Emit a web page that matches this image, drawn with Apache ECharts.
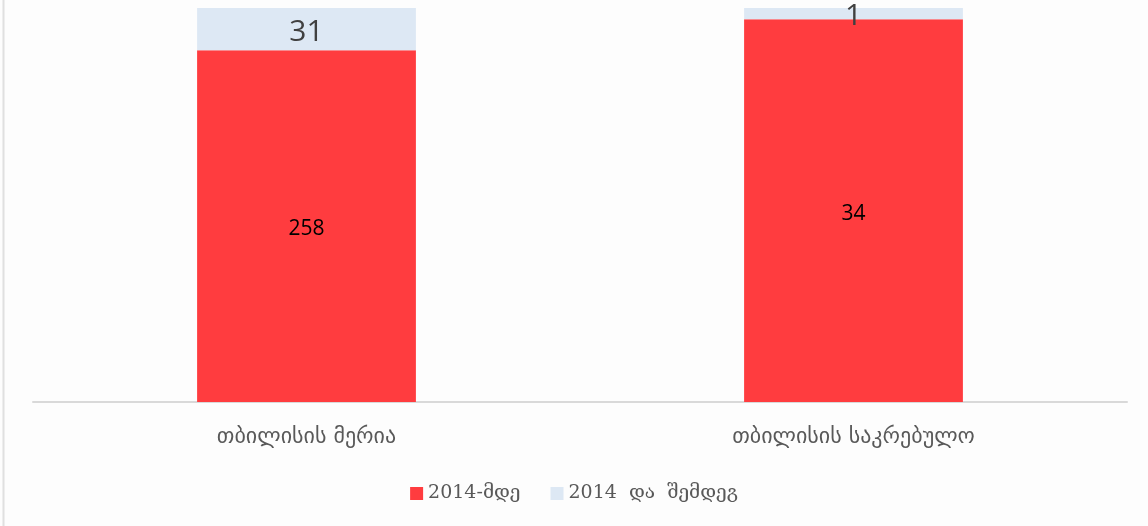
<!DOCTYPE html>
<html><head><meta charset="utf-8">
<script src="https://cdn.jsdelivr.net/npm/echarts@6/dist/echarts.min.js"></script>
<style>html,body{margin:0;padding:0;background:#fff}#c{width:1148px;height:526px}</style>
</head><body><div id="c"></div>
<script>
const categories = ['თბილისის მერია', 'თბილისის საკრებულო'];
const before2014 = [258, 34];
const after2014 = [31, 1];
const seriesNames = ['2014-მდე', '2014  და  შემდეგ'];

const totals = categories.map((_, i) => before2014[i] + after2014[i]);
const pct = (arr) => arr.map((v, i) => ({ value: v / totals[i] * 100, raw: v }));

const chart = echarts.init(document.getElementById('c'));
chart.setOption({
  animation: false,
  backgroundColor: '#fdfdfd',
  graphic: [{
    type: 'line', shape: { x1: 3.5, y1: 0, x2: 3.5, y2: 526 },
    style: { stroke: '#e0e0e0', lineWidth: 2 }, silent: true
  }],
  grid: { left: 33, right: 21, top: 8, bottom: 124 },
  legend: {
    bottom: 18, left: 'center', itemWidth: 13, itemHeight: 13, itemGap: 30,
    icon: 'rect',
    textStyle: { fontFamily: 'DejaVu Serif', fontSize: 19, color: '#595959' },
    data: seriesNames
  },
  xAxis: {
    type: 'category', data: categories,
    axisLine: { lineStyle: { color: '#d9d9d9', width: 2 } },
    axisTick: { show: false },
    axisLabel: { margin: 24, fontFamily: 'DejaVu Sans', fontSize: 22, color: '#595959' }
  },
  yAxis: { type: 'value', min: 0, max: 100, show: false, splitLine: { show: false } },
  series: [
    {
      name: seriesNames[0], type: 'bar', stack: 's', barWidth: '40%',
      data: pct(before2014),
      itemStyle: { color: '#ff3c3f' },
      label: { show: true, position: 'inside', fontFamily: 'Open Sans', fontSize: 21, color: '#000',
        offset: [0, 3], formatter: p => p.data.raw }
    },
    {
      name: seriesNames[1], type: 'bar', stack: 's', barWidth: '40%',
      data: pct(after2014),
      itemStyle: { color: '#dde8f4' },
      label: { show: true, position: 'inside', fontFamily: 'Open Sans', fontSize: 30, color: '#404040',
        offset: [0, 3], formatter: p => p.data.raw }
    }
  ]
});
</script></body></html>
